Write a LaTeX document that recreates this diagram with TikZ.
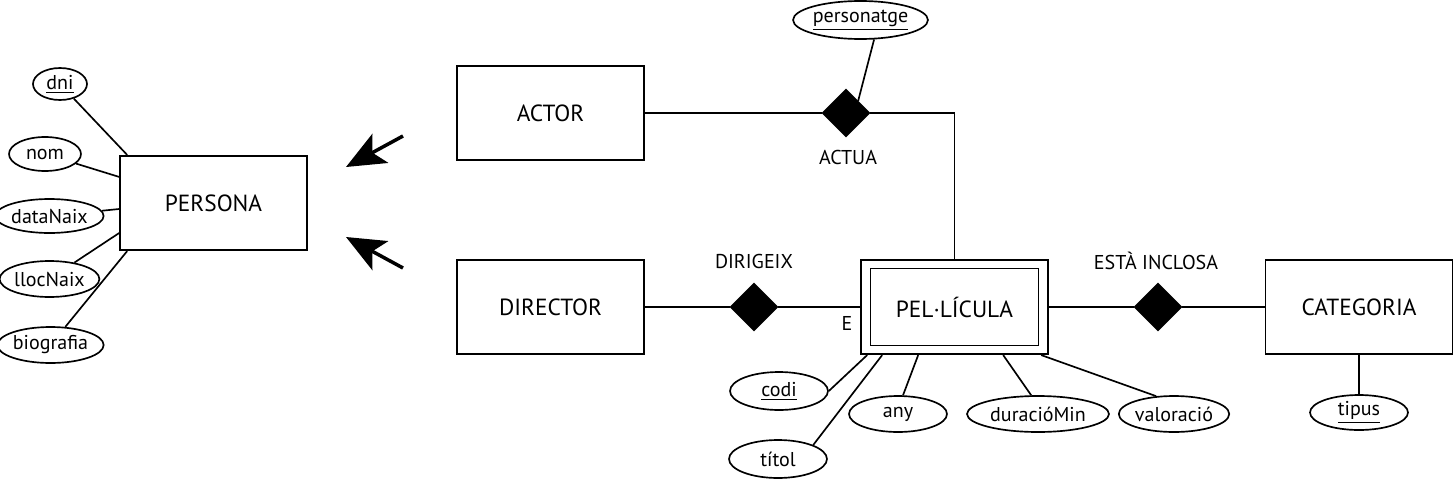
\documentclass[tikz,border=0pt]{standalone}
\usepackage{fontspec}
\setmainfont{PT Sans}
\usetikzlibrary{arrows.meta,positioning,shapes.geometric,calc}

\tikzset{
  entity/.style={draw,minimum width=3.74cm,minimum height=1.89cm,inner sep=2pt,font=\fontsize{13.3}{16}\selectfont},
  attr/.style={draw,ellipse,inner sep=0pt,minimum height=0.72cm,font=\fontsize{11.4}{14}\selectfont},
  rel/.style={draw,diamond,fill=black,minimum width=0.94cm,minimum height=0.94cm,inner sep=0pt},
  lbl/.style={inner sep=0pt,font=\fontsize{11.4}{14}\selectfont},
  isa/.style={line width=2pt,-{Stealth[length=7.8mm,width=6.6mm,inset=1.8mm]}}
}

\begin{document}
\begin{tikzpicture}[x=0.02cm,y=-0.02cm,line width=0.95pt]
\useasboundingbox (0,0) rectangle (1454,480);
% entitats
\node[entity] (persona) at (213.5,203) {PERSONA};
\node[entity] (actor) at (550.5,113) {ACTOR};
\node[entity] (director) at (550.5,307) {DIRECTOR};
\node[entity] (pel) at (954.5,307) {};
\node[draw,minimum width=3.36cm,minimum height=1.54cm,font=\fontsize{13.3}{16}\selectfont] (pelin) at (pel) {PEL·LÍCULA};
\node[entity] (categoria) at (1359,307) {CATEGORIA};
% relacions
\node[rel] (actua) at (846,113) {};
\node[rel] (dirigeix) at (754,307) {};
\node[rel] (inclosa) at (1158,307) {};
\node[lbl] at (848,157) {ACTUA};
\node[lbl] at (754,261) {DIRIGEIX};
\node[lbl] at (1156,261) {ESTÀ INCLOSA};
\node[lbl] at (847,323) {E};
% atributs
\node[attr,minimum width=1.08cm,minimum height=0.64cm] (dni) at (60,84) {\underline{dni}};
\node[attr,minimum width=1.44cm,minimum height=0.68cm] (nom) at (45,154) {nom};
\node[attr,minimum width=1.96cm,minimum height=0.68cm] (dataNaix) at (49.5,216) {dataNaix};
\node[attr,minimum width=1.96cm] (llocNaix) at (49.5,279) {llocNaix};
\node[attr,minimum width=2.0cm] (biografia) at (50.5,345) {biografia};
\node[attr,minimum width=2.48cm,minimum height=0.76cm] (personatge) at (860.5,20) {\underline{personatge}};
\node[attr,minimum width=1.96cm,minimum height=0.76cm] (codi) at (779,391) {\underline{codi}};
\node[attr,minimum width=1.96cm,minimum height=0.76cm] (titol) at (778,459) {títol};
\node[attr,minimum width=1.96cm] (any) at (898,414) {any};
\node[attr,minimum width=2.84cm] (duracio) at (1038,414) {duracióMin};
\node[attr,minimum width=2.04cm] (valoracio) at (1174,414) {valoració};
\node[attr,minimum width=1.96cm,minimum height=0.7cm] (tipus) at (1359,412.5) {\underline{tipus}};
% generalitzacio
\coordinate (g1) at (403,136);
\coordinate (g1t) at (346,167);
\coordinate (g2) at (403,268);
\coordinate (g2t) at (346,237);
\draw[isa] (g1) -- (g1t);
\draw[isa] (g2) -- (g2t);
% connexions
\draw (dni) -- ($(persona.north west)+(8,0)$);
\draw (nom) -- ($(persona.north west)+(0,22)$);
\draw (dataNaix) -- ($(persona.west)+(0,6)$);
\draw (llocNaix) -- ($(persona.west)+(0,30)$);
\draw (biografia) -- ($(persona.south west)+(8,0)$);
\draw (actor) -- (actua);
\draw (actua) -| (pel);
\draw (personatge.-55) -- (actua.north east);
\draw (director) -- (dirigeix) -- (pel);
\draw (pel) -- (inclosa) -- (categoria);
\draw (categoria) -- (tipus);
\draw (codi.east) -- ($(pel.south west)+(7,0)$);
\draw (titol.north east) -- ($(pel.south west)+(22,0)$);
\draw (any.75) -- ($(pel.south west)+(58,0)$);
\draw (duracio.110) -- ($(pel.south west)+(143,0)$);
\draw (valoracio.135) -- ($(pel.south west)+(181,0)$);
\end{tikzpicture}
\end{document}
